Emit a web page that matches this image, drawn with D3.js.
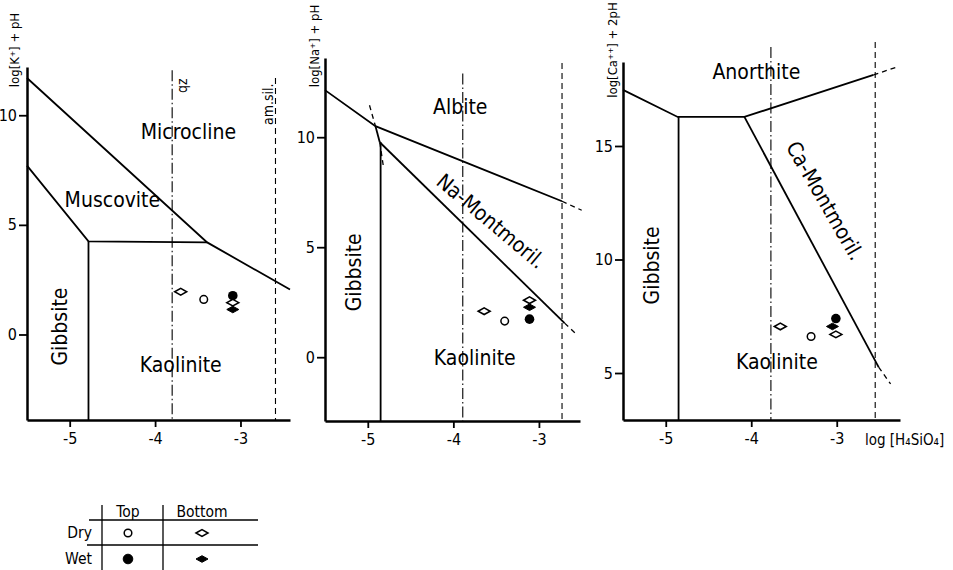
<!DOCTYPE html>
<html>
<head>
<meta charset="utf-8">
<script src="https://cdn.jsdelivr.net/npm/d3@7"></script>
<style>
  body { margin: 0; background: #fff; }
  svg { font-family: "DejaVu Sans Condensed", "DejaVu Sans", sans-serif; font-stretch: condensed; }
</style>
</head>
<body>
<svg id="chart" width="953" height="570"></svg>
<script>
// ---- Data -------------------------------------------------------------
// x: log[H4SiO4]; y: activity ratio of each diagram
const xTicks = [-5, -4, -3];
const kTicks = [0, 5, 10];
const naTicks = [0, 5, 10];
const caTicks = [5, 10, 15];

const panelTitles = ["log[K⁺] + pH", "log[Na⁺] + pH", "log[Ca⁺⁺] + 2pH"];
const kFields = ["Microcline", "Muscovite", "Gibbsite", "Kaolinite"];
const naFields = ["Albite", "Na-Montmoril.", "Gibbsite", "Kaolinite"];
const caFields = ["Anorthite", "Ca-Montmoril.", "Gibbsite", "Kaolinite"];

// phase boundaries (solid) and their metastable extensions (dashed)
const kBoundaries = [
  [[-5.5, 11.7], [-3.39, 4.2], [-2.42, 2.05]],
  [[-5.5, 7.7], [-4.78, 4.25], [-3.39, 4.2]],
  [[-4.78, 4.25], [-4.78, -3.9]]
];
const kExtensions = [];
const naBoundaries = [
  [[-5.5, 12.14], [-4.91, 10.5], [-2.73, 7.09]],
  [[-4.91, 10.5], [-4.86, 9.77]],
  [[-4.86, 9.77], [-2.70, 1.55]],
  [[-4.85, 9.77], [-4.85, -2.9]]
];
const naExtensions = [
  [[-2.73, 7.09], [-2.50, 6.68]],
  [[-2.70, 1.55], [-2.55, 1.0]],
  [[-4.98, 11.45], [-4.91, 10.5]],
  [[-4.86, 9.77], [-4.82, 8.73]]
];
const caBoundaries = [
  [[-5.5, 17.47], [-4.86, 16.28], [-4.08, 16.28], [-2.57, 18.13]],
  [[-4.08, 16.28], [-2.51, 5.26]],
  [[-4.85, 16.28], [-4.85, 2.93]]
];
const caExtensions = [
  [[-2.57, 18.13], [-2.28, 18.5]],
  [[-2.51, 5.26], [-2.37, 4.52]]
];

// silica saturation: quartz and amorphous silica  [x, upper y]
const qzLimits = [[-3.80, 12.05], [-3.89, 12.9], [-3.77, 19.36]];
const amSilLimits = [[-2.59, 11.7], [-2.73, 13.37], [-2.55, 19.58]];

// soil solutions, one entry per diagram (K, Na, Ca)
const topDry = [[-3.43, 1.60], [-3.40, 1.64], [-3.30, 6.61]];
const topWet = [[-3.09, 1.77], [-3.11, 1.73], [-3.01, 7.40]];
const bottomDry = [
  [[-3.70, 1.95], [-3.09, 1.45]],
  [[-3.64, 2.09], [-3.11, 2.59]],
  [[-3.66, 7.05], [-3.01, 6.70]]
];
const bottomWet = [[-3.09, 1.14], [-3.11, 2.27], [-3.05, 7.05]];

const legendCols = ["Top", "Bottom"];
const legendRows = ["Dry", "Wet"];

// ---- Drawing ----------------------------------------------------------
const svg = d3.select("#chart");
const line = d3.line();
const diamond = "M-6,0L0,-3.3L6,0L0,3.3Z";
const NARROW = "'Liberation Sans Narrow','DejaVu Sans Condensed',sans-serif";

function marker(g, kind, cx, cy) {
  if (kind === "topDry") {
    g.append("circle").attr("cx", cx).attr("cy", cy).attr("r", 3.8)
      .attr("fill", "#fff").attr("stroke", "#000").attr("stroke-width", 1.5);
  } else if (kind === "topWet") {
    g.append("circle").attr("cx", cx).attr("cy", cy).attr("r", 4.8).attr("fill", "#000");
  } else if (kind === "bottomDry") {
    g.append("path").attr("d", diamond).attr("transform", `translate(${cx},${cy})`)
      .attr("fill", "#fff").attr("stroke", "#000").attr("stroke-width", 1.5);
  } else {
    g.append("path").attr("d", diamond).attr("transform", `translate(${cx},${cy})`)
      .attr("fill", "#000").attr("stroke", "#000").attr("stroke-width", 1);
  }
}

function drawPanel(p) {
  const g = svg.append("g");
  const x = d3.scaleLinear().domain(p.xDomain).range(p.xRange);
  const y = d3.scaleLinear().domain(p.yDomain).range(p.yRange);
  const fmt = d => (d < 0 ? "-" + Math.abs(d) : String(d));

  // silica saturation lines
  g.append("line")
    .attr("x1", x(p.qz[0])).attr("x2", x(p.qz[0]))
    .attr("y1", y(p.qz[1])).attr("y2", y(p.yDomain[0]))
    .attr("stroke", "#000").attr("stroke-width", 1.1).attr("stroke-dasharray", "11,3,1.5,3");
  g.append("line")
    .attr("x1", x(p.am[0])).attr("x2", x(p.am[0]))
    .attr("y1", y(p.am[1])).attr("y2", y(p.yDomain[0]))
    .attr("stroke", "#000").attr("stroke-width", 1.1).attr("stroke-dasharray", "6,4");

  // phase boundaries
  g.selectAll("path.b").data(p.bounds).join("path").attr("class", "b")
    .attr("d", d => line(d.map(([a, b]) => [x(a), y(b)])))
    .attr("fill", "none").attr("stroke", "#000").attr("stroke-width", 1.8);
  g.selectAll("path.e").data(p.ext).join("path").attr("class", "e")
    .attr("d", d => line(d.map(([a, b]) => [x(a), y(b)])))
    .attr("fill", "none").attr("stroke", "#000").attr("stroke-width", 1.3)
    .attr("stroke-dasharray", "5,4");

  // axes
  const ax = g.append("g").attr("transform", `translate(0,${p.yRange[0]})`)
    .call(d3.axisBottom(x).tickValues(xTicks).tickFormat(fmt).tickSize(7).tickSizeOuter(0).tickPadding(6));
  const ay = g.append("g").attr("transform", `translate(${p.xRange[0]},0)`)
    .call(d3.axisLeft(y).tickValues(p.yTicks).tickFormat(fmt).tickSize(8).tickSizeOuter(0).tickPadding(2));
  [ax, ay].forEach(a => {
    a.attr("font-size", 16).attr("font-family", NARROW);
    a.select(".domain").attr("stroke-width", 2.5);
    a.selectAll(".tick line").attr("stroke-width", 1.8);
    a.selectAll(".tick text").attr("fill", "#000");
  });

  // axis title
  g.append("text")
    .attr("transform", `translate(${p.titlePos[0]},${p.titlePos[1]}) rotate(-90)`)
    .attr("text-anchor", "middle").attr("dominant-baseline", "middle")
    .attr("font-size", 13).text(p.title);

  // stability fields
  p.fields.forEach((name, i) => {
    const [lx, ly, rot] = p.fieldPos[i];
    g.append("text")
      .attr("transform", `translate(${x(lx)},${y(ly)}) rotate(${rot})`)
      .attr("text-anchor", "middle").attr("dominant-baseline", "middle")
      .attr("font-size", 21).text(name);
  });

  // saturation labels
  if (p.satLabels) {
    p.satLabels.forEach(([txt, lx, ly]) => {
      g.append("text")
        .attr("transform", `translate(${x(lx)},${y(ly)}) rotate(-90)`)
        .attr("text-anchor", "middle").attr("dominant-baseline", "middle")
        .attr("font-size", 14).text(txt);
    });
  }

  // samples
  const i = p.index;
  marker(g, "topDry", x(topDry[i][0]), y(topDry[i][1]));
  marker(g, "topWet", x(topWet[i][0]), y(topWet[i][1]));
  bottomDry[i].forEach(([a, b]) => marker(g, "bottomDry", x(a), y(b)));
  marker(g, "bottomWet", x(bottomWet[i][0]), y(bottomWet[i][1]));
  return { g, x, y };
}

drawPanel({
  index: 0, xDomain: [-5.5, -2.42], xRange: [27, 290],
  yDomain: [-3.9, 12.2], yRange: [420, 67], yTicks: kTicks,
  title: panelTitles[0], titlePos: [15, 50],
  bounds: kBoundaries, ext: kExtensions, qz: qzLimits[0], am: amSilLimits[0],
  fields: kFields,
  fieldPos: [[-3.61, 9.2, 0], [-4.50, 6.1, 0], [-5.1, 0.36, -90], [-3.70, -1.45, 0]],
  satLabels: [["qz", -3.67, 11.35], ["am.sil.", -2.67, 10.5]]
});

drawPanel({
  index: 1, xDomain: [-5.5, -2.52], xRange: [325, 580],
  yDomain: [-2.9, 13.6], yRange: [421, 58], yTicks: naTicks,
  title: panelTitles[1], titlePos: [315, 46],
  bounds: naBoundaries, ext: naExtensions, qz: qzLimits[1], am: amSilLimits[1],
  fields: naFields,
  fieldPos: [[-3.92, 11.32, 0], [-3.57, 6.14, 40], [-5.15, 3.86, -90], [-3.75, -0.09, 0]]
});

const p3 = drawPanel({
  index: 2, xDomain: [-5.5, -2.26], xRange: [623, 900],
  yDomain: [2.93, 18.7], yRange: [420, 62], yTicks: caTicks,
  title: panelTitles[2], titlePos: [613, 50],
  bounds: caBoundaries, ext: caExtensions, qz: qzLimits[2], am: amSilLimits[2],
  fields: caFields,
  fieldPos: [[-3.94, 18.2, 0], [-3.15, 12.56, 60], [-5.15, 9.74, -90], [-3.70, 5.44, 0]]
});

p3.g.append("text").attr("x", 865).attr("y", 445).attr("font-size", 15)
  .text("log [H₄SiO₄]");

// ---- Legend -----------------------------------------------------------
const lg = svg.append("g").attr("stroke", "#000");
lg.append("line").attr("x1", 89).attr("x2", 258).attr("y1", 520).attr("y2", 520).attr("stroke-width", 1.3);
lg.append("line").attr("x1", 87).attr("x2", 258).attr("y1", 545).attr("y2", 545).attr("stroke-width", 1.3);
lg.append("line").attr("x1", 102).attr("x2", 102).attr("y1", 505).attr("y2", 570).attr("stroke-width", 1.3);
lg.append("line").attr("x1", 163).attr("x2", 163).attr("y1", 505).attr("y2", 570).attr("stroke-width", 1.3);
const colX = [128, 202];
const rowY = [533, 559];
legendCols.forEach((c, i) => lg.append("text").attr("x", colX[i]).attr("y", 517)
  .attr("text-anchor", "middle").attr("stroke", "none").attr("font-size", 15.5).text(c));
legendRows.forEach((r, i) => lg.append("text").attr("x", 92).attr("y", rowY[i] + 5)
  .attr("text-anchor", "end").attr("stroke", "none").attr("font-size", 15.5).text(r));
marker(lg, "topDry", colX[0], rowY[0]);
marker(lg, "bottomDry", colX[1], rowY[0]);
marker(lg, "topWet", colX[0], rowY[1]);
marker(lg, "bottomWet", colX[1], rowY[1]);
</script>
</body>
</html>
